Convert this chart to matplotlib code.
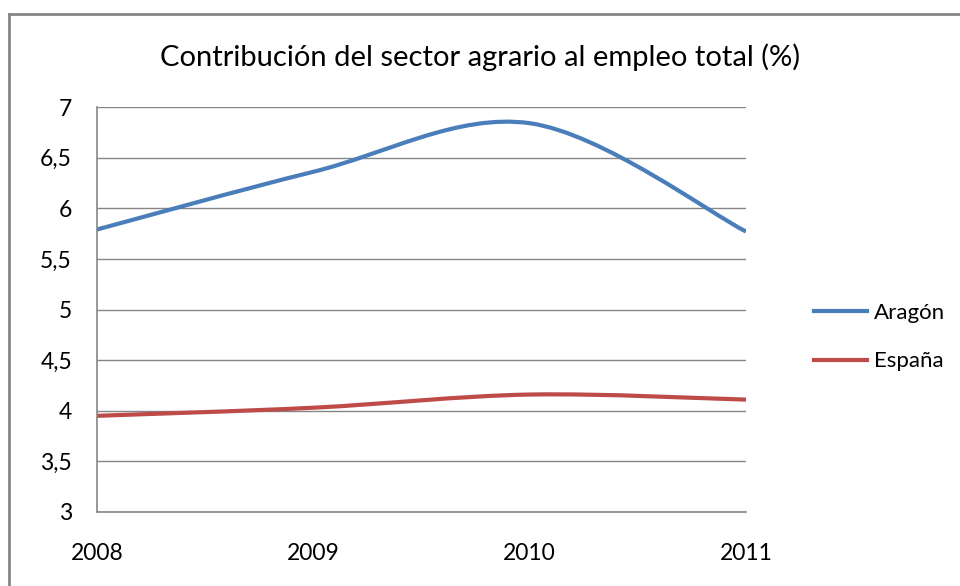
import numpy as np
import matplotlib.pyplot as plt
from matplotlib.path import Path
from matplotlib.patches import PathPatch
from matplotlib.lines import Line2D

years = [2008, 2009, 2010, 2011]
aragon = [5.79, 6.36, 6.84, 5.77]
espana = [3.95, 4.03, 4.16, 4.11]
yticks = [3, 3.5, 4, 4.5, 5, 5.5, 6, 6.5, 7]
ytick_labels = ['3', '3,5', '4', '4,5', '5', '5,5', '6', '6,5', '7']

plt.rcParams['font.family'] = ['Lato', 'DejaVu Sans']


def smooth_path(x, y):
    # Excel style smoothing: cubic bezier with catmull-rom control points
    x = np.asarray(x, float)
    y = np.asarray(y, float)
    n = len(x)
    verts = [(x[0], y[0])]
    codes = [Path.MOVETO]
    for i in range(n - 1):
        p0 = i - 1 if i > 0 else i
        p3 = i + 2 if i + 2 < n else i + 1
        c1 = (x[i] + (x[i + 1] - x[p0]) / 6, y[i] + (y[i + 1] - y[p0]) / 6)
        c2 = (x[i + 1] - (x[p3] - x[i]) / 6, y[i + 1] - (y[p3] - y[i]) / 6)
        verts += [c1, c2, (x[i + 1], y[i + 1])]
        codes += [Path.CURVE4] * 3
    return Path(verts, codes)


fig = plt.figure(figsize=(9.6, 5.86), dpi=100)
ax = fig.add_axes([97 / 960, 1 - 512 / 586, (746 - 97) / 960, (512 - 107) / 586])

blue = '#4A7EBB'
red = '#BE4B48'
ax.add_patch(PathPatch(smooth_path(years, aragon), fill=False, edgecolor=blue, lw=3, capstyle='butt'))
ax.add_patch(PathPatch(smooth_path(years, espana), fill=False, edgecolor=red, lw=3, capstyle='butt'))

ax.set_xlim(2008, 2011)
ax.set_ylim(3, 7)
ax.set_yticks(yticks)
ax.set_yticklabels(ytick_labels)
ax.set_xticks(years)
ax.set_xticklabels([str(y) for y in years])
ax.tick_params(length=0, labelsize=16.5, colors='#000000')
ax.tick_params(axis='y', pad=18)
ax.tick_params(axis='x', pad=22)
ax.grid(axis='y', color='#868686', lw=1)
ax.set_axisbelow(True)
for s in ['top', 'right']:
    ax.spines[s].set_visible(False)
for s in ['left', 'bottom']:
    ax.spines[s].set_color('#868686')
    ax.spines[s].set_linewidth(1.2)

fig.text(0.5, 1 - 57 / 586, 'Contribución del sector agrario al empleo total (%)',
         ha='center', va='center', fontsize=21)

handles = [Line2D([], [], color=blue, lw=3), Line2D([], [], color=red, lw=3)]
fig.legend(handles, ['Aragón', 'España'], loc='center left',
           bbox_to_anchor=(794 / 960, 1 - 337 / 586), frameon=False,
           fontsize=16, handlelength=2.4, handletextpad=0.3, labelspacing=1.3)

# outer chart border
fig.add_artist(Line2D([9 / 960, 9 / 960], [0, 1 - 14 / 586], color='#868686', lw=2))
fig.add_artist(Line2D([9 / 960, 1], [1 - 14 / 586, 1 - 14 / 586], color='#868686', lw=2))

fig.savefig('out.png', dpi=100)
